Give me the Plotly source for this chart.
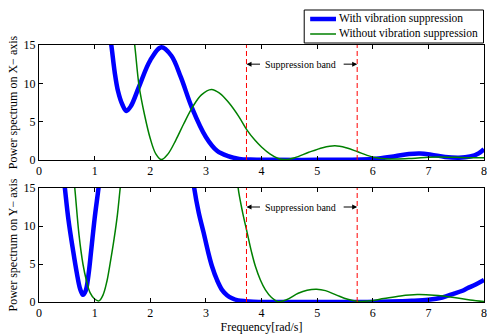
import plotly.graph_objects as go

# ---------------- data ----------------
top_with_x = [1.24, 1.30, 1.36, 1.42, 1.50, 1.57, 1.65, 1.80, 2.00, 2.20, 2.38, 2.55, 2.75,
              3.00, 3.20, 3.40, 3.60, 3.80, 4.20, 5.00, 5.80, 6.10, 6.40, 6.65, 6.85, 7.05,
              7.30, 7.55, 7.75, 7.90, 8.00]
top_with_y = [18.0, 15.0, 11.5, 9.0, 7.2, 6.4, 7.0, 9.6, 13.0, 14.7, 13.6, 10.8, 6.8,
              3.0, 1.2, 0.5, 0.15, 0.05, 0.02, 0.02, 0.05, 0.2, 0.5, 0.78, 0.85, 0.7,
              0.4, 0.3, 0.45, 0.85, 1.4]

top_without_x = [1.68, 1.72, 1.80, 1.90, 2.00, 2.10, 2.20, 2.32, 2.46, 2.60, 2.76, 2.92,
                 3.10, 3.25, 3.41, 3.59, 3.74, 3.88, 4.00, 4.15, 4.30, 4.42, 4.60, 4.85,
                 5.10, 5.32, 5.52, 5.72, 5.90, 6.10, 6.40, 6.70, 7.00, 7.20, 7.50, 7.80, 8.00]
top_without_y = [17.0, 15.0, 9.6, 5.8, 2.8, 0.8, 0.05, 0.8, 2.6, 4.7, 6.9, 8.5,
                 9.2, 8.7, 7.5, 5.7, 3.9, 2.6, 1.7, 0.8, 0.2, 0.05, 0.3, 1.0,
                 1.6, 1.85, 1.6, 1.1, 0.6, 0.25, 0.12, 0.2, 0.35, 0.4, 0.35, 0.3, 0.3]

bot_with_x = [0.42, 0.465, 0.53, 0.61, 0.68, 0.74, 0.79, 0.84, 0.89, 0.94, 1.00, 1.07, 1.10,
              None,
              2.74, 2.79, 2.87, 2.96, 3.04, 3.11, 3.20, 3.29, 3.38, 3.47, 3.58, 3.71, 3.85,
              4.20, 5.00, 5.90, 6.30, 6.70, 7.00, 7.25, 7.46, 7.60, 7.70, 7.85, 8.00]
bot_with_y = [18.0, 15.0, 10.8, 6.9, 3.8, 1.7, 0.95, 1.5, 3.6, 6.9, 11.0, 15.0, 17.0,
              None,
              18.0, 15.0, 11.8, 9.1, 6.6, 4.7, 2.9, 1.6, 0.9, 0.5, 0.22, 0.1, 0.03,
              0.0, 0.0, 0.0, 0.05, 0.15, 0.3, 0.6, 1.1, 1.45, 1.8, 2.3, 2.9]

bot_without_x = [0.60, 0.643, 0.72, 0.79, 0.85, 0.92, 1.00, 1.077, 1.15, 1.22, 1.27, 1.35,
                 1.41, 1.46, 1.50,
                 None,
                 3.55, 3.58, 3.66, 3.74, 3.82, 3.89, 3.98, 4.07, 4.18, 4.30, 4.45, 4.66,
                 4.82, 4.99, 5.15, 5.35, 5.55, 5.72, 5.95, 6.20, 6.50, 6.80, 7.10, 7.46,
                 7.75, 8.00]
bot_without_y = [18.0, 15.0, 8.8, 5.0, 2.9, 1.2, 0.4, 0.15, 0.9, 2.7, 4.7, 8.3,
                 11.5, 15.0, 17.5,
                 None,
                 18.0, 15.0, 11.8, 9.2, 6.6, 4.7, 2.9, 1.6, 0.6, 0.05, 0.3, 1.15,
                 1.55, 1.68, 1.5, 0.9, 0.35, 0.1, 0.15, 0.45, 0.8, 0.98, 0.9, 0.6,
                 0.25, 0.05]

series_names = ["With vibration suppression", "Without vibration suppression"]

band_edges = [3.73, 5.72]
band_label = "Suppression band"
band_label_x = 4.705
band_label_y = 12.5
band_arrow_tails = [4.0, 5.45]

x_ticks = [0, 1, 2, 3, 4, 5, 6, 7, 8]
y_ticks = [0, 5, 10, 15]

FONT = "Liberation Serif"
BLUE = "#0000FF"
GREEN = "#008000"
W, H = 487, 334
ML, MR, MT, MB = 39, 0, 45, 32


def px_x(p):
    return (p - ML) / (W - ML - MR)


def px_y(p):
    return (H - MB - p) / (H - MT - MB)


fig = go.Figure()

fig.add_trace(go.Scatter(x=top_with_x, y=top_with_y, mode="lines", name=series_names[0],
                         showlegend=False,
                         line=dict(color=BLUE, width=4.5, shape="spline"), xaxis="x", yaxis="y"))
fig.add_trace(go.Scatter(x=top_without_x, y=top_without_y, mode="lines", name=series_names[1],
                         showlegend=False,
                         line=dict(color=GREEN, width=1.5, shape="spline"), xaxis="x", yaxis="y"))
fig.add_trace(go.Scatter(x=bot_with_x, y=bot_with_y, mode="lines", name=series_names[0],
                         showlegend=False, connectgaps=False,
                         line=dict(color=BLUE, width=4.5, shape="spline"), xaxis="x2", yaxis="y2"))
fig.add_trace(go.Scatter(x=bot_without_x, y=bot_without_y, mode="lines", name=series_names[1],
                         showlegend=False, connectgaps=False,
                         line=dict(color=GREEN, width=1.5, shape="spline"), xaxis="x2", yaxis="y2"))

shapes = []
annotations = []
for xr, yr in (("x", "y"), ("x2", "y2")):
    for e in band_edges:
        shapes.append(dict(type="line", xref=xr, yref=yr + " domain", x0=e, x1=e, y0=0, y1=1,
                           line=dict(color="#FF0000", width=1, dash="5px,3px")))
    annotations.append(dict(x=band_label_x, y=band_label_y, xref=xr, yref=yr, text=band_label,
                            showarrow=False, font=dict(family=FONT, size=10, color="black")))
    for e, t in zip(band_edges, band_arrow_tails):
        annotations.append(dict(x=e, y=band_label_y, xref=xr, yref=yr, ax=t, ay=band_label_y,
                                axref=xr, ayref=yr, text="", showarrow=True, arrowhead=2,
                                arrowsize=1, arrowwidth=1, arrowcolor="black", standoff=0))

# legend box drawn in paper coordinates (Matlab style, compact)
shapes.append(dict(type="rect", xref="paper", yref="paper",
                   x0=px_x(306), x1=px_x(486.5), y0=px_y(43), y1=px_y(10),
                   line=dict(color="black", width=1), fillcolor="white", layer="above"))
for name, col, wdt, yy in ((series_names[0], BLUE, 4.5, 19), (series_names[1], GREEN, 1.5, 34)):
    shapes.append(dict(type="line", xref="paper", yref="paper",
                       x0=px_x(312), x1=px_x(338), y0=px_y(yy), y1=px_y(yy),
                       line=dict(color=col, width=wdt), layer="above"))
    annotations.append(dict(x=px_x(339), y=px_y(yy), xref="paper", yref="paper", text=name,
                            xanchor="left", yanchor="middle", showarrow=False,
                            font=dict(family=FONT, size=11.5, color="black")))

axis_common = dict(showline=True, linecolor="black", linewidth=1, mirror="allticks",
                   ticks="inside", ticklen=4, tickcolor="black", showgrid=False, zeroline=False,
                   ticklabeloverflow="allow",
                   tickfont=dict(family=FONT, size=12, color="black"))

fig.update_layout(
    width=W, height=H,
    margin=dict(l=ML, r=MR, t=MT, b=MB),
    paper_bgcolor="white", plot_bgcolor="white",
    font=dict(family=FONT, size=12, color="black"),
    showlegend=False,
    xaxis=dict(range=[0, 8], tickvals=x_ticks, anchor="y", **axis_common),
    yaxis=dict(range=[0, 15], tickvals=y_ticks, domain=[px_y(160), 1.0], anchor="x",
               title=dict(text="Power spectrum on X\u2212 axis", standoff=3,
                          font=dict(family=FONT, size=12)), **axis_common),
    xaxis2=dict(range=[0, 8], tickvals=x_ticks, anchor="y2",
                title=dict(text="Frequency[rad/s]", standoff=2, font=dict(family=FONT, size=12)),
                **axis_common),
    yaxis2=dict(range=[0, 15], tickvals=y_ticks, domain=[0.0, px_y(188)], anchor="x2",
                title=dict(text="Power spectrum on Y\u2212 axis", standoff=3,
                           font=dict(family=FONT, size=12)), **axis_common),
    shapes=shapes,
    annotations=annotations,
)

fig.write_html("out.html")
